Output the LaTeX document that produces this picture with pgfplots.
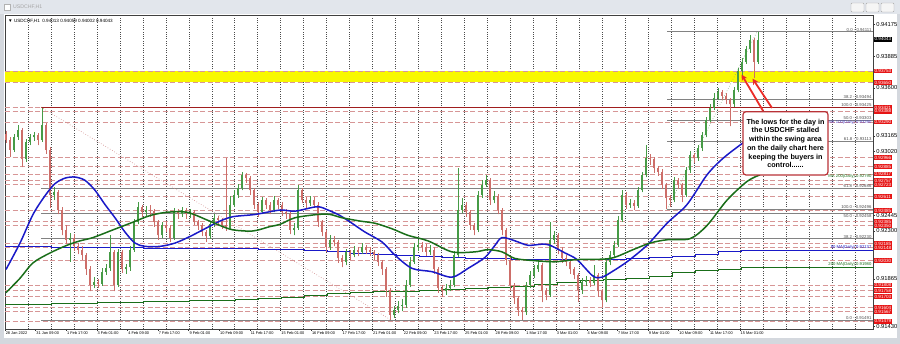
\documentclass[border=0pt]{standalone}
\usepackage{fontspec}
\setmainfont{Liberation Sans}
\usepackage{pgfplots}
\usepackage{pgfplotstable}
\pgfplotsset{compat=1.18}
\usetikzlibrary{arrows.meta}

\definecolor{upc}{RGB}{70,155,70}
\definecolor{dnc}{RGB}{205,110,105}
\definecolor{maBlue}{RGB}{25,25,200}
\definecolor{maGreen}{RGB}{25,110,25}
\definecolor{dashc}{RGB}{215,150,150}
\definecolor{labred}{RGB}{230,20,20}
\definecolor{fibgray}{RGB}{130,130,130}
\definecolor{fibtxt}{RGB}{80,80,80}
\definecolor{band}{RGB}{248,248,0}
\definecolor{boxred}{RGB}{185,50,55}
\definecolor{arrred}{RGB}{235,45,40}
\definecolor{winframe}{RGB}{212,216,222}
\definecolor{titlebar}{RGB}{226,230,236}
\definecolor{purp}{RGB}{70,60,200}

% rising candles (close above open)
\pgfplotstableread{
x o h l c
14 0.9304 0.9318 0.9302 0.9315
18 0.9315 0.9326 0.9313 0.9322
26 0.9295 0.9314 0.9293 0.9311
30 0.9311 0.9318 0.9308 0.9315
34 0.9315 0.9320 0.9312 0.9317
42 0.9313 0.9342 0.9311 0.9326
54 0.9263 0.9270 0.9258 0.9265
70 0.9222 0.9228 0.9202 0.9224
94 0.9181 0.9188 0.9178 0.9184
102 0.9182 0.9196 0.9180 0.9193
106 0.9193 0.9200 0.9190 0.9196
110 0.9196 0.9226 0.9194 0.9211
118 0.9181 0.9214 0.9179 0.9211
126 0.9195 0.9200 0.9191 0.9197
130 0.9197 0.9216 0.9194 0.9213
134 0.9213 0.9241 0.9211 0.9238
138 0.9238 0.9256 0.9236 0.9252
146 0.9247 0.9253 0.9244 0.9249
162 0.9226 0.9238 0.9224 0.9235
174 0.9224 0.9251 0.9222 0.9247
182 0.9245 0.9252 0.9243 0.9249
190 0.9245 0.9250 0.9242 0.9247
210 0.9225 0.9239 0.9223 0.9236
214 0.9236 0.9245 0.9234 0.9242
230 0.9233 0.9262 0.9231 0.9254
234 0.9254 0.9267 0.9252 0.9263
238 0.9263 0.9273 0.9260 0.9269
242 0.9269 0.9284 0.9267 0.9281
262 0.9247 0.9261 0.9245 0.9258
274 0.9249 0.9262 0.9247 0.9258
294 0.9231 0.9237 0.9226 0.9233
298 0.9233 0.9272 0.9231 0.9267
310 0.9255 0.9262 0.9253 0.9258
330 0.9215 0.9226 0.9213 0.9222
346 0.9202 0.9214 0.9199 0.9211
354 0.9208 0.9216 0.9206 0.9213
362 0.9211 0.9219 0.9209 0.9215
394 0.9154 0.9162 0.9151 0.9158
398 0.9158 0.9166 0.9155 0.9162
402 0.9162 0.9168 0.9157 0.9163
406 0.9163 0.9185 0.9160 0.9181
410 0.9181 0.9206 0.9179 0.9202
414 0.9202 0.9219 0.9200 0.9215
418 0.9215 0.9222 0.9212 0.9217
430 0.9211 0.9217 0.9208 0.9213
446 0.9175 0.9182 0.9172 0.9178
450 0.9178 0.9185 0.9175 0.9181
454 0.9181 0.9212 0.9179 0.9208
458 0.9208 0.9287 0.9206 0.9249
462 0.9249 0.9260 0.9246 0.9254
478 0.9231 0.9266 0.9229 0.9263
482 0.9263 0.9276 0.9260 0.9272
486 0.9272 0.9281 0.9270 0.9276
494 0.9258 0.9266 0.9255 0.9262
526 0.9156 0.9184 0.9154 0.9181
530 0.9181 0.9194 0.9178 0.9190
534 0.9190 0.9199 0.9187 0.9195
538 0.9195 0.9204 0.9193 0.9199
550 0.9172 0.9238 0.9170 0.9222
554 0.9222 0.9230 0.9218 0.9226
582 0.9176 0.9187 0.9173 0.9184
586 0.9184 0.9189 0.9180 0.9185
594 0.9183 0.9199 0.9181 0.9190
606 0.9167 0.9205 0.9165 0.9202
610 0.9202 0.9212 0.9199 0.9208
614 0.9208 0.9221 0.9205 0.9217
618 0.9217 0.9244 0.9215 0.9240
622 0.9240 0.9267 0.9238 0.9263
630 0.9254 0.9259 0.9251 0.9255
638 0.9253 0.9270 0.9251 0.9267
642 0.9267 0.9284 0.9265 0.9281
646 0.9281 0.9308 0.9279 0.9296
674 0.9258 0.9279 0.9256 0.9276
686 0.9263 0.9288 0.9261 0.9285
690 0.9285 0.9303 0.9283 0.9299
698 0.9296 0.9308 0.9294 0.9305
702 0.9305 0.9320 0.9303 0.9317
706 0.9317 0.9334 0.9315 0.9331
710 0.9331 0.9345 0.9329 0.9342
714 0.9342 0.9355 0.9340 0.9351
718 0.9351 0.9360 0.9349 0.9356
734 0.9345 0.9361 0.9343 0.9358
738 0.9358 0.9378 0.9356 0.9375
742 0.9375 0.9387 0.9371 0.9384
746 0.9384 0.9398 0.9382 0.9395
750 0.9395 0.9408 0.9392 0.9404
758 0.9384 0.9411 0.9382 0.9404
}\candlesup

% falling candles (close below open)
\pgfplotstableread{
x o h l c
6 0.9318 0.9321 0.9310 0.9313
10 0.9313 0.9315 0.9297 0.9304
22 0.9322 0.9324 0.9288 0.9295
38 0.9317 0.9319 0.9308 0.9313
46 0.9326 0.9328 0.9300 0.9304
50 0.9304 0.9306 0.9251 0.9263
58 0.9265 0.9267 0.9245 0.9249
62 0.9249 0.9252 0.9226 0.9231
66 0.9231 0.9235 0.9218 0.9222
74 0.9224 0.9227 0.9212 0.9216
78 0.9216 0.9219 0.9209 0.9213
82 0.9213 0.9216 0.9204 0.9208
86 0.9208 0.9210 0.9190 0.9195
90 0.9195 0.9198 0.9175 0.9181
98 0.9184 0.9186 0.9178 0.9182
114 0.9211 0.9213 0.9175 0.9181
122 0.9211 0.9213 0.9192 0.9195
142 0.9252 0.9254 0.9243 0.9247
150 0.9249 0.9254 0.9243 0.9248
154 0.9248 0.9250 0.9234 0.9238
158 0.9238 0.9240 0.9222 0.9226
166 0.9235 0.9239 0.9229 0.9233
170 0.9233 0.9235 0.9220 0.9224
178 0.9247 0.9250 0.9241 0.9245
186 0.9249 0.9251 0.9241 0.9245
194 0.9247 0.9249 0.9235 0.9238
198 0.9238 0.9240 0.9231 0.9235
202 0.9235 0.9237 0.9225 0.9229
206 0.9229 0.9231 0.9220 0.9225
218 0.9242 0.9244 0.9236 0.9240
222 0.9240 0.9242 0.9232 0.9235
226 0.9235 0.9296 0.9230 0.9233
246 0.9281 0.9283 0.9274 0.9278
250 0.9278 0.9280 0.9263 0.9267
254 0.9267 0.9269 0.9250 0.9254
258 0.9254 0.9256 0.9243 0.9247
266 0.9258 0.9260 0.9250 0.9254
270 0.9254 0.9256 0.9245 0.9249
278 0.9258 0.9260 0.9250 0.9254
282 0.9254 0.9256 0.9244 0.9247
286 0.9247 0.9250 0.9241 0.9245
290 0.9245 0.9247 0.9227 0.9231
302 0.9267 0.9269 0.9255 0.9258
306 0.9258 0.9261 0.9251 0.9255
314 0.9258 0.9261 0.9251 0.9254
318 0.9254 0.9256 0.9234 0.9238
322 0.9238 0.9240 0.9225 0.9229
326 0.9229 0.9231 0.9211 0.9215
334 0.9222 0.9225 0.9216 0.9220
338 0.9220 0.9222 0.9201 0.9205
342 0.9205 0.9208 0.9197 0.9202
350 0.9211 0.9213 0.9204 0.9208
358 0.9213 0.9215 0.9207 0.9211
366 0.9215 0.9217 0.9209 0.9213
370 0.9213 0.9215 0.9207 0.9211
374 0.9211 0.9213 0.9204 0.9208
378 0.9208 0.9210 0.9198 0.9202
382 0.9202 0.9204 0.9190 0.9195
386 0.9195 0.9197 0.9170 0.9176
390 0.9176 0.9178 0.9149 0.9154
422 0.9217 0.9220 0.9211 0.9215
426 0.9215 0.9218 0.9207 0.9211
434 0.9213 0.9215 0.9191 0.9195
438 0.9195 0.9197 0.9174 0.9178
442 0.9178 0.9181 0.9170 0.9175
466 0.9254 0.9256 0.9243 0.9247
470 0.9247 0.9249 0.9231 0.9235
474 0.9235 0.9237 0.9226 0.9231
490 0.9276 0.9278 0.9254 0.9258
498 0.9262 0.9264 0.9245 0.9249
502 0.9249 0.9251 0.9226 0.9231
506 0.9231 0.9233 0.9199 0.9204
510 0.9204 0.9206 0.9176 0.9181
514 0.9181 0.9183 0.9164 0.9169
518 0.9169 0.9171 0.9153 0.9158
522 0.9158 0.9161 0.9149 0.9156
542 0.9199 0.9201 0.9165 0.9175
546 0.9175 0.9178 0.9167 0.9172
558 0.9226 0.9228 0.9209 0.9213
562 0.9213 0.9215 0.9201 0.9205
566 0.9205 0.9208 0.9198 0.9202
570 0.9202 0.9204 0.9191 0.9195
574 0.9195 0.9197 0.9186 0.9190
578 0.9190 0.9192 0.9165 0.9176
590 0.9185 0.9188 0.9179 0.9183
598 0.9190 0.9192 0.9170 0.9175
602 0.9175 0.9177 0.9161 0.9167
626 0.9263 0.9265 0.9250 0.9254
634 0.9255 0.9258 0.9249 0.9253
650 0.9296 0.9300 0.9290 0.9295
654 0.9295 0.9297 0.9283 0.9287
658 0.9287 0.9289 0.9280 0.9284
662 0.9284 0.9286 0.9268 0.9272
666 0.9272 0.9274 0.9250 0.9260
670 0.9260 0.9263 0.9252 0.9258
678 0.9276 0.9278 0.9268 0.9272
682 0.9272 0.9274 0.9256 0.9263
694 0.9299 0.9301 0.9292 0.9296
722 0.9356 0.9358 0.9349 0.9353
726 0.9353 0.9355 0.9345 0.9349
730 0.9349 0.9351 0.9325 0.9345
754 0.9404 0.9405 0.9369 0.9384
}\candlesdn

\pgfplotsset{
  lvl/.style={color=dashc, dash pattern=on 5pt off 2.5pt, line width=0.8pt, forget plot},
  fibl/.style={color=fibgray, line width=0.6pt, forget plot},
  nomk/.style={only marks, mark=*, mark size=0pt, mark options={draw=none, fill=none}, forget plot},
}
\tikzset{
  rlab/.style={fill=labred, text=white, font=\fontsize{4.6}{5}\selectfont, inner xsep=0.8pt, inner ysep=0.7pt, anchor=west},
  flab/.style={anchor=south east, text=fibtxt, font=\fontsize{4.3}{5}\selectfont, inner sep=0.4pt},
}

\begin{document}
\begin{tikzpicture}[x=1pt,y=1pt]
\useasboundingbox (-5,-15) rectangle (895,329);
\fill[winframe] (-5,-15) rectangle (895,329);
\fill[titlebar] (-5,315) rectangle (895,329);
\fill[white] (-1,-9) rectangle (892,315);
\draw[black!30, fill=white] (-1,319) rectangle (5,325);
\node[anchor=west, text=black!35, font=\fontsize{5.2}{6}\selectfont, inner sep=0] at (8,322) {USDCHF,H1};
\foreach \bx in {846,861,876} \draw[black!35, fill=black!4, rounded corners=1pt] (\bx,317) rectangle ++(13,9);

\begin{axis}[
  width=868pt, height=314pt, scale only axis,
  xmin=5, xmax=873, ymin=0.914091, ymax=0.942628,
  clip=false,
  axis line style={black!75, line width=0.6pt},
  scaled y ticks=false, scaled x ticks=false,
  xtick={5,35.62,66.24,96.86,127.48,158.1,188.72,219.34,249.96,280.58,311.2,341.82,372.44,403.06,433.68,464.3,494.92,525.54,556.16,586.78,617.4,648.02,678.64,709.26,739.88},
  xticklabels={{28 Jan 2022},{31 Jan 09:00},{1 Feb 17:00},{3 Feb 01:00},{4 Feb 09:00},{7 Feb 17:00},{9 Feb 01:00},{10 Feb 09:00},{11 Feb 17:00},{15 Feb 01:00},{16 Feb 09:00},{17 Feb 17:00},{21 Feb 01:00},{22 Feb 09:00},{23 Feb 17:00},{25 Feb 01:00},{28 Feb 09:00},{1 Mar 17:00},{3 Mar 01:00},{4 Mar 09:00},{7 Mar 17:00},{9 Mar 01:00},{10 Mar 09:00},{11 Mar 17:00},{15 Mar 01:00}},
  ytick={0.91430,0.91865,0.92300,0.92445,0.93020,0.93165,0.93600,0.93885,0.94175},
  yticklabels={0.91430,0.91865,0.92300,0.92445,0.93020,0.93165,0.93600,0.93885,0.94175},
  xtick pos=left, ytick pos=right, yticklabel pos=right,
  tick align=outside, major tick length=2pt,
  tick style={black!80, line width=0.5pt},
  xticklabel style={anchor=north west, inner sep=0.6pt, font=\fontsize{3.9}{4.5}\selectfont},
  yticklabel style={anchor=west, inner sep=1.2pt, font=\fontsize{5.8}{6}\selectfont},
  /pgf/number format/assume math mode=true,
  minor xtick={27.97,50.94,...,856},
  xminorgrids=true, minor tick length=0pt,
  minor grid style={black!70, dash pattern=on 0.7pt off 1.6pt, line width=0.45pt},
]
% swing area band
\addplot[fill=band, draw=none, forget plot] coordinates {(5,0.93650) (873,0.93650) (873,0.93753) (5,0.93753)} -- cycle;
% horizontal levels
\pgfplotsinvokeforeach{0.93753,0.93650,0.93421,0.93388,0.93290,0.92966,0.92885,0.92817,0.92757,0.92723,0.92611,0.92485,0.92385,0.92350,0.92185,0.92148,0.92030,0.91808,0.91758,0.91703,0.91604,0.91567,0.91479}{
  \addplot[lvl] coordinates {(5,#1) (873,#1)};
}
% fibonacci set (Jan high to Feb low)
\addplot[color={rgb,255:red,160;green,30;blue,30}, line width=0.7pt, forget plot] coordinates {(41,0.93425) (873,0.93425)};
\pgfplotsinvokeforeach{0.92686,0.92458,0.92230,0.91491}{
  \addplot[fibl] coordinates {(41,#1) (873,#1)};
}
% fibonacci set (Mar low to high)
\pgfplotsinvokeforeach{0.94111,0.93494,0.93303,0.93113,0.92496}{
  \addplot[fibl] coordinates {(667,#1) (873,#1)};
}
\addplot[color={rgb,255:red,205;green,130;blue,130}, dotted, line width=0.6pt, forget plot] coordinates {(41,0.93425) (391,0.91491)};
\addplot[color={rgb,255:red,120;green,170;blue,120}, dotted, line width=0.6pt, forget plot] coordinates {(667,0.92496) (757,0.94111)};

% daily MAs (step lines)
\addplot[maBlue, line width=0.9pt, const plot, forget plot] coordinates {
(5,0.9216) (28,0.9216) (51,0.9215) (74,0.9215) (97,0.9215) (120,0.9215) (143,0.9214) (166,0.9214) (189,0.9214) (212,0.9214) (235,0.9214) (258,0.9213) (281,0.9213) (304,0.9212) (327,0.9211) (350,0.9210) (373,0.9209) (396,0.9208) (419,0.9207) (442,0.9206) (465,0.9205) (488,0.9205) (511,0.9204) (534,0.9204) (557,0.9204) (580,0.9204) (603,0.9204) (626,0.9205) (649,0.9206) (672,0.9207) (695,0.9209) (718,0.9211) (741,0.9212) (873,0.9212)};
\addplot[maGreen, line width=0.9pt, const plot, forget plot] coordinates {
(5,0.9163) (28,0.9163) (51,0.9164) (74,0.9164) (97,0.9165) (120,0.9165) (143,0.9166) (166,0.9166) (189,0.9167) (212,0.9167) (235,0.9168) (258,0.9169) (281,0.9170) (304,0.9171) (327,0.9173) (350,0.9174) (373,0.9175) (396,0.9175) (419,0.9176) (442,0.9177) (465,0.9178) (488,0.9179) (511,0.9180) (534,0.9181) (557,0.9183) (580,0.9185) (603,0.9186) (626,0.9187) (649,0.9189) (672,0.9192) (695,0.9194) (718,0.9195) (741,0.9197) (873,0.9197)};

% candles: wicks
\addplot[nomk, error bars/.cd, y dir=plus, y explicit, error mark=none, error bar style={line width=0.8pt, draw=upc}]
  table[x=x, y=l, y error plus expr=\thisrow{h}-\thisrow{l}] {\candlesup};
\addplot[nomk, error bars/.cd, y dir=plus, y explicit, error mark=none, error bar style={line width=0.8pt, draw=dnc}]
  table[x=x, y=l, y error plus expr=\thisrow{h}-\thisrow{l}] {\candlesdn};
% candles: bodies
\addplot[nomk, error bars/.cd, y dir=plus, y explicit, error mark=none, error bar style={line width=2.8pt, draw=upc}]
  table[x=x, y=o, y error plus expr=\thisrow{c}-\thisrow{o}] {\candlesup};
\addplot[nomk, error bars/.cd, y dir=plus, y explicit, error mark=none, error bar style={line width=2.8pt, draw=dnc}]
  table[x=x, y=c, y error plus expr=\thisrow{o}-\thisrow{c}] {\candlesdn};

% hourly MAs
\addplot[maBlue, line width=1.5pt, smooth, forget plot] coordinates {
(6,0.9195) (20,0.9219) (33,0.9245) (45,0.9262) (55,0.9273) (65,0.9278) (75,0.9279) (85,0.9276) (95,0.9267) (105,0.9254) (115,0.9242) (125,0.9229) (135,0.9219) (145,0.9216) (160,0.9216) (175,0.9219) (190,0.9225) (207,0.9233) (220,0.9239) (233,0.9243) (255,0.9245) (280,0.9249) (295,0.9248) (317,0.9252) (328,0.9249) (340,0.9244) (352,0.9237) (365,0.9229) (382,0.9220) (395,0.9208) (412,0.9196) (432,0.9193) (452,0.9188) (468,0.9196) (485,0.9206) (495,0.9217) (502,0.9224) (515,0.9221) (528,0.9217) (542,0.9218) (550,0.9217) (565,0.9210) (577,0.9204) (593,0.9189) (602,0.9188) (612,0.9193) (627,0.9202) (647,0.9217) (667,0.9237) (687,0.9254) (707,0.9281) (723,0.9296) (743,0.9310) (757,0.9318)};
\addplot[maGreen, line width=1.5pt, smooth, forget plot] coordinates {
(6,0.9174) (20,0.9187) (33,0.9201) (50,0.9210) (67,0.9217) (80,0.9221) (93,0.9224) (113,0.9231) (133,0.9238) (150,0.9244) (167,0.9247) (187,0.9247) (207,0.9240) (220,0.9235) (233,0.9231) (253,0.9230) (270,0.9234) (280,0.9236) (295,0.9242) (318,0.9245) (330,0.9245) (342,0.9242) (360,0.9239) (375,0.9237) (392,0.9232) (408,0.9226) (428,0.9221) (452,0.9211) (475,0.9211) (488,0.9213) (502,0.9211) (515,0.9205) (535,0.9203) (555,0.9202) (577,0.9204) (610,0.9205) (633,0.9213) (650,0.9219) (667,0.9222) (690,0.9223) (707,0.9235) (727,0.9258) (747,0.9275) (760,0.9281)};

% labels of levels
\node[flab] at (axis cs:872,0.94111) {0.0 - 0.94111};
\node[flab] at (axis cs:872,0.93494) {38.2 - 0.93494};
\node[flab] at (axis cs:872,0.93303) {50.0 - 0.93303};
\node[flab] at (axis cs:872,0.93113) {61.8 - 0.93113};
\node[flab] at (axis cs:872,0.92496) {100.0 - 0.92496};
\node[flab] at (axis cs:872,0.93425) {100.0 - 0.93425};
\node[flab] at (axis cs:872,0.92686) {61.8 - 0.92686};
\node[flab, anchor=north east] at (axis cs:872,0.92458) {50.0 - 0.92458};
\node[flab] at (axis cs:872,0.92230) {38.2 - 0.92230};
\node[flab] at (axis cs:872,0.91491) {0.0 - 0.91491};
\node[anchor=east, text=purp, font=\fontsize{4.2}{5}\selectfont, inner sep=0.4pt] at (axis cs:872,0.93285) {MA 100(Daily) 0.93290};
\node[anchor=east, text=maGreen, font=\fontsize{4.2}{5}\selectfont, inner sep=0.4pt] at (axis cs:872,0.92792) {MA 200(Daily) 0.92790};
\node[anchor=south east, text=maBlue, font=\fontsize{4.2}{5}\selectfont, inner sep=0.4pt] at (axis cs:872,0.92125) {50 MA(Daily) 0.92137};
\node[anchor=south east, text=maGreen, font=\fontsize{4.2}{5}\selectfont, inner sep=0.4pt] at (axis cs:872,0.91975) {200 MA(Daily) 0.91980};

% subtitle
\node[anchor=west, font=\fontsize{4.6}{5}\selectfont, inner sep=0] at (axis cs:8,0.94205) {▼ USDCHF,H1\ \ 0.94013 0.94059 0.94002 0.94043};

% annotation
\draw[boxred, line width=1.2pt, rounded corners=3pt, fill=white] (axis cs:743,0.93384) rectangle (axis cs:828,0.92809);
\node[align=center, font=\bfseries\fontsize{7.2}{8.7}\selectfont, inner sep=0] at (axis cs:785.5,0.93096) {The lows for the day in\\the USDCHF stalled\\within the swing area\\on the daily chart here\\keeping the buyers in\\control......};
\draw[arrred, line width=1.8pt, -{Stealth[length=6pt,width=6pt]}] (axis cs:763,0.93392) -- (axis cs:741.5,0.93722);
\draw[arrred, line width=1.8pt, -{Stealth[length=6pt,width=6pt]}] (axis cs:772,0.93418) -- (axis cs:752.5,0.93685);

% price labels on the scale
\pgfplotsinvokeforeach{0.93753,0.93650,0.93421,0.93388,0.93290,0.92966,0.92885,0.92817,0.92757,0.92723,0.92611,0.92485,0.92385,0.92350,0.92185,0.92148,0.92030,0.91808,0.91758,0.91703,0.91604,0.91567,0.91479}{
  \node[rlab] at (axis cs:873.6,#1) {#1};
}
\node[rlab, fill=black] at (axis cs:873.6,0.94043) {0.94043};
\end{axis}
\end{tikzpicture}
\end{document}
